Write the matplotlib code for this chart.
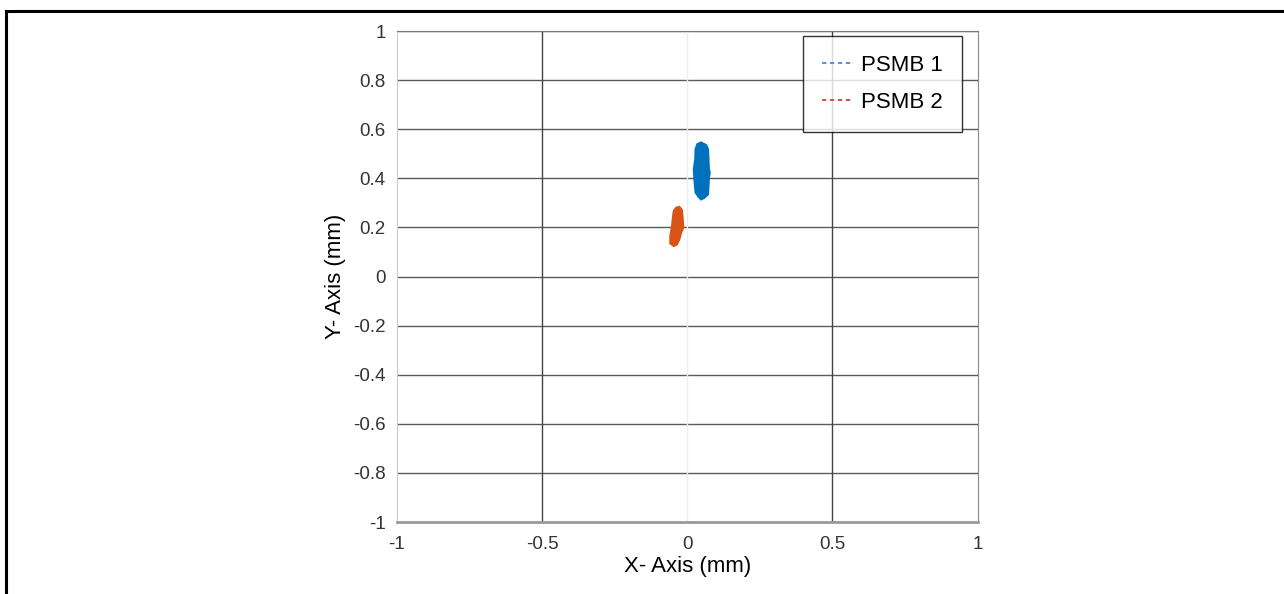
import matplotlib
matplotlib.use("Agg")
import matplotlib.pyplot as plt
from matplotlib.lines import Line2D

plt.rcParams['font.family'] = ['Liberation Sans', 'DejaVu Sans']

psmb1_x = [0.035, 0.048, 0.066, 0.072, 0.075, 0.078, 0.075, 0.072, 0.060,
           0.048, 0.039, 0.029, 0.025, 0.023, 0.028, 0.029]
psmb1_y = [0.539, 0.546, 0.535, 0.518, 0.437, 0.423, 0.403, 0.335, 0.321,
           0.314, 0.325, 0.342, 0.396, 0.437, 0.478, 0.518]
psmb2_x = [-0.038, -0.027, -0.018, -0.015, -0.013, -0.021, -0.027, -0.035,
           -0.046, -0.058, -0.058, -0.052, -0.049, -0.046]
psmb2_y = [0.280, 0.284, 0.271, 0.233, 0.199, 0.178, 0.151, 0.131,
           0.124, 0.135, 0.164, 0.205, 0.240, 0.267]

labels = ["PSMB 1", "PSMB 2"]
xticks = [-1, -0.5, 0, 0.5, 1]
xticklabels = ["-1", "-0.5", "0", "0.5", "1"]
yticks = [-1, -0.8, -0.6, -0.4, -0.2, 0, 0.2, 0.4, 0.6, 0.8, 1]
yticklabels = ["-1", "-0.8", "-0.6", "-0.4", "-0.2", "0", "0.2", "0.4", "0.6", "0.8", "1"]

fig = plt.figure(figsize=(12.84, 5.94), dpi=100)
ax = fig.add_axes([0.309, 0.1212, 0.4523, 0.8266])

# grid: horizontal lines dark, verticals mixed like the source
for yv in yticks[1:]:
    ax.axhline(yv, color='#5a5a5a', lw=1.0, zorder=1)
ax.axvline(-0.5, color='#444444', lw=1.0, zorder=1)
ax.axvline(0.5, color='#444444', lw=1.0, zorder=1)
ax.axvline(0, color='#ececec', lw=1.0, zorder=1)

ax.fill(psmb1_x, psmb1_y, color='#0072BD', lw=1.5, zorder=3)
ax.fill(psmb2_x, psmb2_y, color='#D95319', lw=1.5, zorder=3)

ax.set_xlim(-1, 1)
ax.set_ylim(-1, 1)
ax.set_xticks(xticks)
ax.set_xticklabels(xticklabels)
ax.set_yticks(yticks)
ax.set_yticklabels(yticklabels)
ax.tick_params(length=0, labelsize=13.5, colors='#333333')
ax.tick_params(axis='x', pad=10)
ax.tick_params(axis='y', pad=8)

ax.spines['left'].set_color('#cccccc')
ax.spines['right'].set_color('#888888')
ax.spines['top'].set_color('#777777')
ax.spines['bottom'].set_color('#999999')
ax.spines['bottom'].set_linewidth(2.0)

ax.set_xlabel("X- Axis (mm)", fontsize=16, labelpad=2)
ax.set_ylabel("Y- Axis (mm)", fontsize=16, labelpad=5)

handles = [Line2D([], [], color='#4f86cc', lw=1.3, linestyle=(0, (2.4, 2.0))),
           Line2D([], [], color='#d0443c', lw=1.3, linestyle=(0, (2.4, 2.0)))]
leg = fig.legend(handles, labels, loc='upper left', bbox_to_anchor=(0.6254, 0.9395),
                 fontsize=16, frameon=True, fancybox=False, borderpad=0.85,
                 handlelength=1.4, handletextpad=0.35, labelspacing=0.73,
                 borderaxespad=0)
leg.get_frame().set_edgecolor('black')
leg.get_frame().set_linewidth(1.0)

# page frame lines (left and top) as in the source image
fig.add_artist(Line2D([0.00506, 0.00506], [0.0, 0.9823], color='black', lw=2.2,
                      transform=fig.transFigure))
fig.add_artist(Line2D([0.0045, 1.0], [0.9823, 0.9823], color='black', lw=2.2,
                      transform=fig.transFigure))

fig.savefig("out.png", dpi=100)
